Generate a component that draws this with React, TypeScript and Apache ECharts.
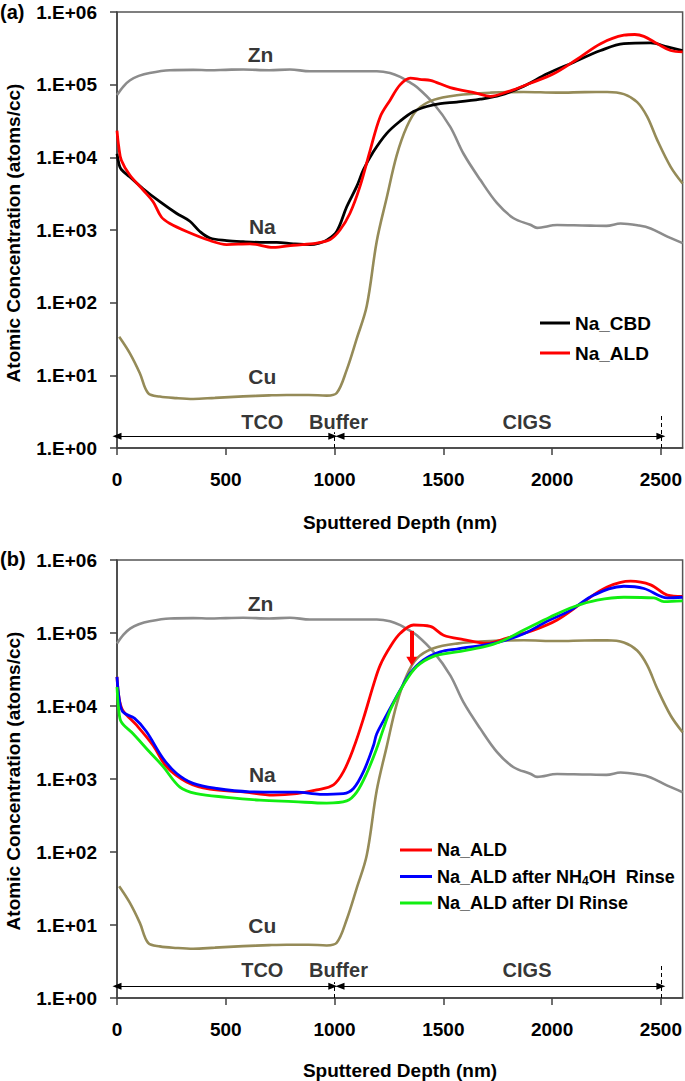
import React, { useEffect, useRef } from "react";
import * as echarts from "echarts";

// ---------- data ----------
const depthTicks = [0, 500, 1000, 1500, 2000, 2500];
const concTicks = [1, 10, 100, 1000, 10000, 100000, 1000000];

const znDepth = [0, 30, 60, 100, 150, 243, 350, 427, 500, 580, 700, 795, 887, 1000, 1100, 1194, 1255, 1302, 1340, 1378, 1455, 1532, 1593, 1670, 1747, 1823, 1900, 1931, 2023, 2100, 2176, 2250, 2315, 2400, 2453, 2530, 2600];
const znConc = [72000, 95000, 115000, 132000, 145000, 158000, 160000, 158000, 160000, 162000, 158000, 162000, 153000, 153000, 153000, 153000, 145000, 128000, 110000, 93000, 55000, 26300, 11200, 4900, 2340, 1450, 1180, 1070, 1170, 1160, 1150, 1140, 1230, 1150, 1050, 810, 660];

const cuDepth = [10, 58, 105, 143, 197, 275, 350, 450, 580, 700, 780, 880, 964, 1010, 1056, 1102, 1148, 1194, 1240, 1286, 1332, 1378, 1455, 1562, 1716, 1870, 2023, 2150, 2253, 2330, 2391, 2437, 2483, 2545, 2600];
const cuConc = [34, 20.4, 10.7, 5.7, 5.1, 4.85, 4.73, 4.9, 5.13, 5.3, 5.37, 5.37, 5.25, 5.7, 11.9, 32, 90, 700, 2800, 10700, 26300, 44700, 61700, 71600, 77600, 79400, 77600, 79000, 79400, 74100, 57500, 36300, 17400, 7410, 4370];

// panel (a)
const cbdDepth = [0, 10, 20, 58, 120, 197, 273, 335, 381, 427, 504, 580, 657, 734, 811, 887, 930, 964, 1010, 1056, 1102, 1133, 1179, 1240, 1302, 1363, 1424, 1486, 1562, 1670, 1762, 1870, 1977, 2100, 2223, 2330, 2453, 2530, 2600];
const cbdConc = [11200, 7900, 6800, 5400, 3700, 2450, 1700, 1320, 955, 776, 716, 690, 676, 676, 646, 631, 661, 724, 955, 2090, 3980, 6760, 12000, 21400, 31600, 42700, 50100, 55000, 57500, 63100, 71600, 95500, 141000, 204000, 295000, 367000, 375000, 331000, 295000];

const aldDepth = [0, 8, 20, 58, 120, 166, 204, 243, 320, 427, 504, 611, 718, 811, 918, 980, 1025, 1071, 1117, 1164, 1210, 1256, 1302, 1348, 1400, 1440, 1532, 1655, 1716, 1793, 1900, 2007, 2115, 2223, 2330, 2380, 2422, 2483, 2545, 2600];
const aldConc = [23400, 14100, 9100, 5750, 3550, 2450, 1510, 1230, 955, 716, 631, 646, 575, 617, 661, 741, 1000, 1700, 3980, 12600, 36300, 61700, 100000, 123000, 117500, 114800, 91200, 75900, 69200, 79400, 104700, 141000, 224000, 367000, 479000, 490000, 462000, 367000, 295000, 282000];

// panel (b)
const ald2Depth = [0, 10, 27, 89, 166, 227, 320, 427, 580, 718, 826, 918, 995, 1041, 1087, 1133, 1179, 1210, 1256, 1302, 1363, 1440, 1501, 1593, 1700, 1793, 1915, 2023, 2146, 2253, 2361, 2453, 2530, 2600];
const ald2Conc = [25100, 12600, 8700, 5500, 2880, 1480, 912, 724, 668, 603, 631, 708, 832, 1260, 2630, 6760, 19500, 36300, 64600, 98900, 128800, 123000, 93300, 81300, 72400, 85100, 109600, 151000, 269000, 427000, 513000, 457000, 331000, 316000];

const nhDepth = [0, 10, 27, 81, 135, 212, 273, 350, 458, 611, 734, 826, 933, 1041, 1087, 1133, 1179, 1194, 1240, 1302, 1348, 1409, 1486, 1562, 1685, 1762, 1870, 1977, 2084, 2192, 2330, 2422, 2530, 2600];
const nhConc = [25100, 12600, 8300, 6760, 4470, 1910, 1200, 871, 741, 668, 661, 661, 617, 631, 741, 1260, 2880, 4170, 7590, 16600, 28200, 42700, 55000, 60300, 68400, 75900, 97700, 144500, 204000, 331000, 437000, 407000, 302000, 309000];

const diDepth = [0, 8, 20, 74, 150, 212, 289, 365, 504, 657, 811, 964, 1056, 1102, 1148, 1194, 1225, 1260, 1317, 1378, 1455, 1562, 1685, 1762, 1870, 1992, 2100, 2207, 2330, 2468, 2514, 2600];
const diConc = [18200, 8900, 6030, 4170, 2340, 1480, 776, 631, 562, 513, 490, 468, 501, 661, 1200, 2630, 4900, 9330, 19500, 34700, 47900, 55000, 64600, 75900, 109600, 166000, 229000, 282000, 309000, 302000, 269000, 275000];

// element labels and layer regions
const elementNames = ["Zn", "Na", "Cu"];
const elementLabelDepth = [660, 668, 668];
const elementLabelConcA = [263000, 1100, 9.7];
const elementLabelConcB = [255000, 1150, 9.9];

const layerNames = ["TCO", "Buffer", "CIGS"];
const layerLabelDepth = [668, 1018, 1885];
const layerLabelConcA = 2.26;
const layerLabelConcB = 2.4;
const layerArrowConc = 1.45;
const tcoArrow = [0, 992];
const cigsArrow = [1025, 2500];
const boundaryDepth = [1000, 2500];
const boundaryTop = [1.65, 2.8];

// ALD loss arrow (panel b)
const rinseArrowDepth = 1355;
const rinseArrowFrom = 107000;
const rinseArrowTo = 41000;

const NH4_NAME = "Na_ALD after NH4OH Rinse";
const DI_NAME = "Na_ALD after DI Rinse";

const FONT = "'Liberation Sans', Arial, sans-serif";
const GRAY = "#8c8c8c";
const OLIVE = "#958b58";

const pair = (xs: number[], ys: number[]) => xs.map((x, i) => [x, ys[i]]);

function buildOption() {
  const tickFmt = (v: number) => {
    const e = Math.round(Math.log10(v));
    return "1.E+" + String(e).padStart(2, "0");
  };
  const grids = [
    { left: 117, top: 12, width: 566, height: 436 },
    { left: 117, top: 560, width: 566, height: 438 },
  ];
  const xAxes = grids.map((_, i) => ({
    type: "value",
    gridIndex: i,
    min: 0,
    max: 2600,
    interval: 500,
    axisLine: { show: true, onZero: false, lineStyle: { color: "#404040", width: 1.5 } },
    axisTick: { show: true, length: 7, customValues: depthTicks, lineStyle: { color: "#404040", width: 1.5 } },
    axisLabel: {
      customValues: depthTicks,
      formatter: (v: number) => String(v),
      margin: 22,
      color: "#000",
      fontFamily: FONT,
      fontWeight: "bold",
      fontSize: 19,
    },
    splitLine: { show: false },
  }));
  const yAxes = grids.map((_, i) => ({
    type: "log",
    logBase: 10,
    gridIndex: i,
    min: 1,
    max: 1000000,
    splitNumber: 6,
    axisLine: { show: true, lineStyle: { color: "#404040", width: 1.5 } },
    axisTick: { show: true, length: 7, customValues: concTicks, lineStyle: { color: "#404040", width: 1.5 } },
    axisLabel: {
      customValues: concTicks,
      formatter: tickFmt,
      margin: 20,
      color: "#000",
      fontFamily: FONT,
      fontWeight: "bold",
      fontSize: 19,
    },
    minorTick: { show: false },
    splitLine: { show: false },
  }));

  const lineSeries = (name: string, xs: number[], ys: number[], color: string, idx: number, width = 2.8, extra: any = {}) => ({
    type: "line",
    name,
    xAxisIndex: idx,
    yAxisIndex: idx,
    data: pair(xs, ys),
    symbol: "none",
    smooth: 0.35,
    lineStyle: { color, width },
    itemStyle: { color },
    silent: true,
    ...extra,
  });

  const regionMarks = (conc: number) => ({
    silent: true,
    symbol: ["triangle", "triangle"],
    symbolSize: [7, 9],
    label: { show: false },
    lineStyle: { color: "#000", width: 1, type: "solid" },
    data: [
      [{ coord: [tcoArrow[0], conc] }, { coord: [tcoArrow[1], conc] }],
      [{ coord: [cigsArrow[0], conc] }, { coord: [cigsArrow[1], conc] }],
    ],
  });
  const boundaryMarks = () => ({
    silent: true,
    symbol: ["none", "none"],
    label: { show: false },
    lineStyle: { color: "#000", width: 1, type: [4, 3] },
    data: boundaryDepth.map((d, i) => [{ coord: [d, 1] }, { coord: [d, boundaryTop[i]] }]),
  });

  const textSeries = (idx: number, depths: number[], concs: number[], names: string[], size: number) => ({
    type: "scatter",
    xAxisIndex: idx,
    yAxisIndex: idx,
    symbolSize: 0,
    silent: true,
    z: 10,
    data: names.map((n, i) => ({ name: n, value: [depths[i], concs[i]] })),
    label: {
      show: true,
      position: "inside",
      formatter: "{b}",
      color: "#000",
      fontFamily: FONT,
      fontWeight: "bold",
      fontSize: size,
    },
  });

  const series: any[] = [];
  for (let i = 0; i < 2; i++) {
    series.push(lineSeries("Zn", znDepth, znConc, GRAY, i, 2.6, { markLine: boundaryMarks() }));
    series.push(lineSeries("Cu", cuDepth, cuConc, OLIVE, i, 2.6, { markLine: regionMarks(layerArrowConc) }));
  }
  series.push(lineSeries("Na_CBD", cbdDepth, cbdConc, "#000000", 0));
  series.push(lineSeries("Na_ALD", aldDepth, aldConc, "#ff0000", 0));
  series.push(
    lineSeries("Na_ALD", ald2Depth, ald2Conc, "#ff0000", 1, 2.8, {
      markLine: {
        silent: true,
        symbol: ["none", "triangle"],
        symbolSize: [11, 9],
        label: { show: false },
        lineStyle: { color: "#ff0000", width: 4, type: "solid" },
        data: [[{ coord: [rinseArrowDepth, rinseArrowFrom] }, { coord: [rinseArrowDepth, rinseArrowTo] }]],
      },
    })
  );
  series.push(lineSeries(NH4_NAME, nhDepth, nhConc, "#0000ff", 1));
  series.push(lineSeries(DI_NAME, diDepth, diConc, "#11ee11", 1));

  series.push(textSeries(0, elementLabelDepth, elementLabelConcA, elementNames, 21));
  series.push(textSeries(1, elementLabelDepth, elementLabelConcB, elementNames, 21));
  series.push(textSeries(0, layerLabelDepth, layerLabelDepth.map(() => layerLabelConcA), layerNames, 20));
  series.push(textSeries(1, layerLabelDepth, layerLabelDepth.map(() => layerLabelConcB), layerNames, 20));

  const legendText = {
    fontFamily: FONT,
    fontWeight: "bold",
    fontSize: 18,
    color: "#000",
    lineHeight: 20,
    rich: {
      sub: { fontFamily: FONT, fontWeight: "bold", fontSize: 12, color: "#000", padding: [9, 0, 0, 0], lineHeight: 20 },
    },
  };

  const titleStyle = { fontFamily: FONT, fontWeight: "bold", fontSize: 19, fill: "#000" };

  return {
    animation: false,
    backgroundColor: "#ffffff",
    grid: grids.map((g) => ({ ...g, show: true, borderColor: "#555555", borderWidth: 1.5, backgroundColor: "transparent" })),
    xAxis: xAxes,
    yAxis: yAxes,
    legend: [
      {
        data: ["Na_CBD", "Na_ALD"],
        orient: "vertical",
        left: 535,
        top: 308,
        icon: "rect",
        itemWidth: 30,
        itemHeight: 3,
        itemGap: 10,
        selectedMode: false,
        textStyle: { ...legendText, fontSize: 19 },
      },
      {
        data: ["Na_ALD", NH4_NAME, DI_NAME],
        orient: "vertical",
        left: 395,
        top: 835,
        icon: "rect",
        itemWidth: 32,
        itemHeight: 3,
        itemGap: 6,
        selectedMode: false,
        formatter: (name: string) => (name === NH4_NAME ? "Na_ALD after NH{sub|4}OH  Rinse" : name),
        textStyle: legendText,
      },
    ],
    graphic: [
      { type: "text", left: 0, top: 2, style: { text: "(a)", ...titleStyle, fontSize: 20 } },
      { type: "text", left: 0, top: 549, style: { text: "(b)", ...titleStyle, fontSize: 20 } },
      {
        type: "text",
        x: 13,
        y: 233,
        rotation: Math.PI / 2,
        style: { text: "Atomic Concentration (atoms/cc)", ...titleStyle, align: "center", verticalAlign: "middle" },
      },
      {
        type: "text",
        x: 13,
        y: 781,
        rotation: Math.PI / 2,
        style: { text: "Atomic Concentration (atoms/cc)", ...titleStyle, align: "center", verticalAlign: "middle" },
      },
      { type: "text", x: 400, y: 522, style: { text: "Sputtered Depth (nm)", ...titleStyle, align: "center", verticalAlign: "middle" } },
      { type: "text", x: 400, y: 1070, style: { text: "Sputtered Depth (nm)", ...titleStyle, align: "center", verticalAlign: "middle" } },
    ],
    series,
  };
}

export default function App() {
  const ref = useRef<HTMLDivElement>(null);
  useEffect(() => {
    if (!ref.current) return;
    const chart = echarts.init(ref.current, null, { renderer: "svg" });
    chart.setOption(buildOption() as any);
    return () => chart.dispose();
  }, []);
  return <div ref={ref} style={{ position: "absolute", left: 0, top: 0, width: 685, height: 1081, background: "#fff" }} />;
}
